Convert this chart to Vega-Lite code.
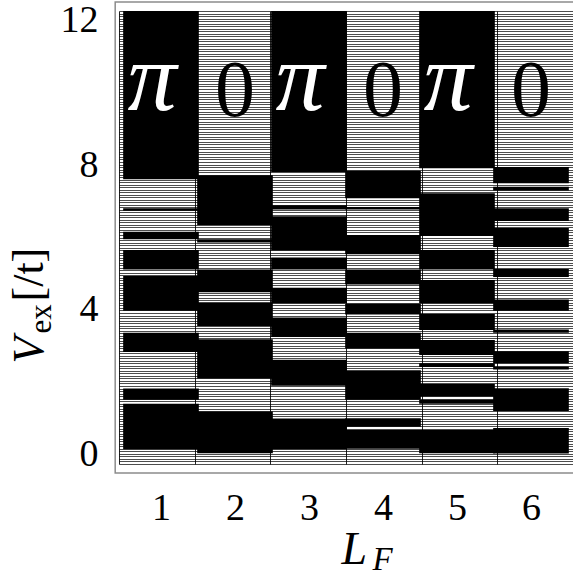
{
  "$schema": "https://vega.github.io/schema/vega-lite/v6.json",
  "autosize": "none",
  "width": 454,
  "height": 453,
  "padding": {"left": 119, "top": 11, "right": 0, "bottom": 109},
  "background": "white",
  "config": {"view": {"stroke": null, "fill": "white"}, "font": "Liberation Serif"},
  "datasets": {
    "cells": [
      {"LF": 1, "v0": -0.25, "v1": 0.16, "phase": "0"},
      {"LF": 1, "v0": 0.16, "v1": 1.41, "phase": "π"},
      {"LF": 1, "v0": 1.41, "v1": 1.52, "phase": "0"},
      {"LF": 1, "v0": 1.52, "v1": 1.83, "phase": "π"},
      {"LF": 1, "v0": 1.83, "v1": 2.84, "phase": "0"},
      {"LF": 1, "v0": 2.84, "v1": 3.37, "phase": "π"},
      {"LF": 1, "v0": 3.37, "v1": 3.98, "phase": "0"},
      {"LF": 1, "v0": 3.98, "v1": 4.94, "phase": "π"},
      {"LF": 1, "v0": 4.94, "v1": 5.12, "phase": "0"},
      {"LF": 1, "v0": 5.12, "v1": 5.655, "phase": "π"},
      {"LF": 1, "v0": 5.655, "v1": 5.95, "phase": "0"},
      {"LF": 1, "v0": 5.95, "v1": 6.16, "phase": "π"},
      {"LF": 1, "v0": 6.16, "v1": 6.74, "phase": "0"},
      {"LF": 1, "v0": 6.74, "v1": 6.81, "phase": "π"},
      {"LF": 1, "v0": 6.81, "v1": 7.61, "phase": "0"},
      {"LF": 1, "v0": 7.61, "v1": 12.25, "phase": "π"},
      {"LF": 2, "v0": -0.25, "v1": 0.045, "phase": "0"},
      {"LF": 2, "v0": 0.045, "v1": 1.2, "phase": "π"},
      {"LF": 2, "v0": 1.2, "v1": 2.11, "phase": "0"},
      {"LF": 2, "v0": 2.11, "v1": 3.19, "phase": "π"},
      {"LF": 2, "v0": 3.19, "v1": 3.56, "phase": "0"},
      {"LF": 2, "v0": 3.56, "v1": 4.21, "phase": "π"},
      {"LF": 2, "v0": 4.21, "v1": 4.49, "phase": "0"},
      {"LF": 2, "v0": 4.49, "v1": 5.12, "phase": "π"},
      {"LF": 2, "v0": 5.12, "v1": 5.86, "phase": "0"},
      {"LF": 2, "v0": 5.86, "v1": 5.95, "phase": "π"},
      {"LF": 2, "v0": 5.95, "v1": 6.345, "phase": "0"},
      {"LF": 2, "v0": 6.345, "v1": 7.72, "phase": "π"},
      {"LF": 2, "v0": 7.72, "v1": 12.25, "phase": "0"},
      {"LF": 3, "v0": -0.25, "v1": 0.16, "phase": "0"},
      {"LF": 3, "v0": 0.16, "v1": 1.005, "phase": "π"},
      {"LF": 3, "v0": 1.005, "v1": 1.91, "phase": "0"},
      {"LF": 3, "v0": 1.91, "v1": 2.63, "phase": "π"},
      {"LF": 3, "v0": 2.63, "v1": 3.255, "phase": "0"},
      {"LF": 3, "v0": 3.255, "v1": 3.79, "phase": "π"},
      {"LF": 3, "v0": 3.79, "v1": 4.185, "phase": "0"},
      {"LF": 3, "v0": 4.185, "v1": 4.615, "phase": "π"},
      {"LF": 3, "v0": 4.615, "v1": 5.12, "phase": "0"},
      {"LF": 3, "v0": 5.12, "v1": 5.45, "phase": "π"},
      {"LF": 3, "v0": 5.45, "v1": 5.64, "phase": "0"},
      {"LF": 3, "v0": 5.64, "v1": 6.585, "phase": "π"},
      {"LF": 3, "v0": 6.585, "v1": 6.77, "phase": "0"},
      {"LF": 3, "v0": 6.77, "v1": 6.89, "phase": "π"},
      {"LF": 3, "v0": 6.89, "v1": 7.81, "phase": "0"},
      {"LF": 3, "v0": 7.81, "v1": 12.25, "phase": "π"},
      {"LF": 4, "v0": -0.25, "v1": 0.17, "phase": "0"},
      {"LF": 4, "v0": 0.17, "v1": 0.69, "phase": "π"},
      {"LF": 4, "v0": 0.69, "v1": 0.78, "phase": "0"},
      {"LF": 4, "v0": 0.78, "v1": 1.01, "phase": "π"},
      {"LF": 4, "v0": 1.01, "v1": 1.52, "phase": "0"},
      {"LF": 4, "v0": 1.52, "v1": 2.34, "phase": "π"},
      {"LF": 4, "v0": 2.34, "v1": 2.94, "phase": "0"},
      {"LF": 4, "v0": 2.94, "v1": 3.37, "phase": "π"},
      {"LF": 4, "v0": 3.37, "v1": 3.875, "phase": "0"},
      {"LF": 4, "v0": 3.875, "v1": 4.17, "phase": "π"},
      {"LF": 4, "v0": 4.17, "v1": 4.7, "phase": "0"},
      {"LF": 4, "v0": 4.7, "v1": 5.12, "phase": "π"},
      {"LF": 4, "v0": 5.12, "v1": 5.54, "phase": "0"},
      {"LF": 4, "v0": 5.54, "v1": 6.07, "phase": "π"},
      {"LF": 4, "v0": 6.07, "v1": 6.77, "phase": "0"},
      {"LF": 4, "v0": 6.77, "v1": 6.84, "phase": "π"},
      {"LF": 4, "v0": 6.84, "v1": 7.08, "phase": "0"},
      {"LF": 4, "v0": 7.08, "v1": 7.84, "phase": "π"},
      {"LF": 4, "v0": 7.84, "v1": 12.25, "phase": "0"},
      {"LF": 5, "v0": -0.25, "v1": 0.045, "phase": "0"},
      {"LF": 5, "v0": 0.045, "v1": 0.69, "phase": "π"},
      {"LF": 5, "v0": 0.69, "v1": 1.41, "phase": "0"},
      {"LF": 5, "v0": 1.41, "v1": 1.52, "phase": "π"},
      {"LF": 5, "v0": 1.52, "v1": 1.61, "phase": "0"},
      {"LF": 5, "v0": 1.61, "v1": 1.96, "phase": "π"},
      {"LF": 5, "v0": 1.96, "v1": 2.43, "phase": "0"},
      {"LF": 5, "v0": 2.43, "v1": 2.53, "phase": "π"},
      {"LF": 5, "v0": 2.53, "v1": 2.76, "phase": "0"},
      {"LF": 5, "v0": 2.76, "v1": 3.17, "phase": "π"},
      {"LF": 5, "v0": 3.17, "v1": 3.45, "phase": "0"},
      {"LF": 5, "v0": 3.45, "v1": 3.89, "phase": "π"},
      {"LF": 5, "v0": 3.89, "v1": 4.185, "phase": "0"},
      {"LF": 5, "v0": 4.185, "v1": 4.83, "phase": "π"},
      {"LF": 5, "v0": 4.83, "v1": 5.12, "phase": "0"},
      {"LF": 5, "v0": 5.12, "v1": 5.655, "phase": "π"},
      {"LF": 5, "v0": 5.655, "v1": 6.04, "phase": "0"},
      {"LF": 5, "v0": 6.04, "v1": 7.22, "phase": "π"},
      {"LF": 5, "v0": 7.22, "v1": 7.91, "phase": "0"},
      {"LF": 5, "v0": 7.91, "v1": 12.25, "phase": "π"},
      {"LF": 6, "v0": -0.25, "v1": 0.04, "phase": "0"},
      {"LF": 6, "v0": 0.04, "v1": 0.745, "phase": "π"},
      {"LF": 6, "v0": 0.745, "v1": 1.21, "phase": "0"},
      {"LF": 6, "v0": 1.21, "v1": 1.84, "phase": "π"},
      {"LF": 6, "v0": 1.84, "v1": 2.36, "phase": "0"},
      {"LF": 6, "v0": 2.36, "v1": 2.435, "phase": "π"},
      {"LF": 6, "v0": 2.435, "v1": 2.53, "phase": "0"},
      {"LF": 6, "v0": 2.53, "v1": 2.86, "phase": "π"},
      {"LF": 6, "v0": 2.86, "v1": 3.37, "phase": "0"},
      {"LF": 6, "v0": 3.37, "v1": 3.46, "phase": "π"},
      {"LF": 6, "v0": 3.46, "v1": 3.98, "phase": "0"},
      {"LF": 6, "v0": 3.98, "v1": 4.29, "phase": "π"},
      {"LF": 6, "v0": 4.29, "v1": 4.91, "phase": "0"},
      {"LF": 6, "v0": 4.91, "v1": 5.13, "phase": "π"},
      {"LF": 6, "v0": 5.13, "v1": 5.74, "phase": "0"},
      {"LF": 6, "v0": 5.74, "v1": 6.26, "phase": "π"},
      {"LF": 6, "v0": 6.26, "v1": 6.455, "phase": "0"},
      {"LF": 6, "v0": 6.455, "v1": 6.81, "phase": "π"},
      {"LF": 6, "v0": 6.81, "v1": 7.3, "phase": "0"},
      {"LF": 6, "v0": 7.3, "v1": 7.4, "phase": "π"},
      {"LF": 6, "v0": 7.4, "v1": 7.5, "phase": "0"},
      {"LF": 6, "v0": 7.5, "v1": 7.945, "phase": "π"},
      {"LF": 6, "v0": 7.945, "v1": 12.25, "phase": "0"}
    ],
    "labels": [
      {"LF": 1, "label": "π"},
      {"LF": 2, "label": "0"},
      {"LF": 3, "label": "π"},
      {"LF": 4, "label": "0"},
      {"LF": 5, "label": "π"},
      {"LF": 6, "label": "0"}
    ]
  },
  "layer": [
    {
      "layer": [
        {
          "data": {"values": [{}]},
          "mark": {"type": "rect", "filled": false, "stroke": "#8c8c8c", "strokeWidth": 1.5},
          "encoding": {
            "x": {"datum": 0.381, "type": "quantitative"},
            "x2": {"datum": 6.62},
            "y": {"datum": -0.5, "type": "quantitative"},
            "y2": {"datum": 12.5}
          }
        },
        {
          "data": {"name": "cells"},
          "mark": {"type": "bar", "width": {"expr": "width / 6"}},
          "encoding": {
            "x": {
              "field": "LF", "type": "quantitative",
              "scale": {"domain": [0.5, 6.5], "nice": false, "zero": false},
              "axis": {
                "values": [1, 2, 3, 4, 5, 6], "format": "d",
                "labelFont": "Liberation Serif", "labelFontSize": 38, "labelColor": "black",
                "labelPadding": 25, "ticks": false, "tickSize": 0, "domain": false, "grid": false,
                "labelOverlap": false, "labelFlush": false,
                "title": "L", "titleFont": "Liberation Serif", "titleFontStyle": "italic",
                "titleFontWeight": "normal", "titleFontSize": 46, "titleColor": "black",
                "titleAlign": "left", "titleBaseline": "alphabetic", "titleX": 222, "titleY": 99
              }
            },
            "y": {
              "field": "v0", "type": "quantitative",
              "scale": {"domain": [-0.25, 12.25], "nice": false, "zero": false},
              "axis": {
                "values": [0, 4, 8, 12], "format": "d",
                "labelFont": "Liberation Serif", "labelFontSize": 38, "labelColor": "black",
                "labelPadding": 21, "ticks": false, "tickSize": 0, "domain": false, "grid": false,
                "labelOverlap": false, "labelFlush": false,
                "title": "V", "titleFont": "Liberation Serif", "titleFontStyle": "italic",
                "titleFontWeight": "normal", "titleFontSize": 44, "titleColor": "black",
                "titleAngle": 270, "titleAlign": "left", "titleBaseline": "alphabetic",
                "titleX": -77, "titleY": 352
              }
            },
            "y2": {"field": "v1"},
            "color": {
              "field": "phase", "type": "nominal",
              "scale": {"domain": ["π", "0"], "range": ["#000000", "transparent"]},
              "legend": null
            }
          }
        },
        {
          "data": {"name": "labels"},
          "transform": [{"filter": "datum.label == 'π'"}],
          "mark": {"type": "text", "font": "Liberation Serif", "fontStyle": "italic", "fontSize": 98, "baseline": "alphabetic", "align": "center", "color": "white", "dx": -9},
          "encoding": {
            "x": {"field": "LF", "type": "quantitative"},
            "y": {"datum": 9.52, "type": "quantitative"},
            "text": {"field": "label"}
          }
        },
        {
          "data": {"name": "labels"},
          "transform": [{"filter": "datum.label == '0'"}],
          "mark": {"type": "text", "font": "Liberation Serif", "fontSize": 80, "baseline": "alphabetic", "align": "center", "color": "black"},
          "encoding": {
            "x": {"field": "LF", "type": "quantitative"},
            "y": {"datum": 9.35, "type": "quantitative"},
            "text": {"field": "label"}
          }
        }
      ]
    },
    {
      "data": {"values": [{}]},
      "mark": {"type": "point", "opacity": 0},
      "encoding": {
        "x": {
          "datum": 0, "type": "quantitative",
          "scale": {"domain": [0, 6], "nice": false, "zero": false},
          "axis": {
            "orient": "bottom", "tickCount": 6, "grid": true, "gridColor": "#222222", "gridWidth": 1,
            "labels": false, "ticks": false, "domain": false, "zindex": 0,
            "title": "F", "titleFont": "Liberation Serif", "titleFontStyle": "italic",
            "titleFontWeight": "normal", "titleFontSize": 33, "titleColor": "black",
            "titleAlign": "left", "titleBaseline": "alphabetic", "titleX": 253, "titleY": 105
          }
        },
        "y": {
          "datum": 0, "type": "quantitative",
          "scale": {"domain": [0, 180], "nice": false, "zero": false},
          "axis": {
            "orient": "left", "tickCount": 180, "grid": true, "gridColor": "#000000", "gridWidth": 0.7,
            "labels": false, "ticks": false, "domain": false, "zindex": 0,
            "title": "ex", "titleFont": "Liberation Serif", "titleFontStyle": "normal",
            "titleFontWeight": "normal", "titleFontSize": 31, "titleColor": "black",
            "titleAngle": 270, "titleAlign": "left", "titleBaseline": "alphabetic",
            "titleX": -69, "titleY": 322
          }
        }
      }
    },
    {
      "data": {"values": [{}]},
      "mark": {"type": "point", "opacity": 0},
      "encoding": {
        "y": {
          "datum": 0, "type": "quantitative",
          "scale": {"domain": [0, 1]},
          "axis": {
            "orient": "left", "grid": false, "labels": false, "ticks": false, "domain": false,
            "title": "[/t]", "titleFont": "Liberation Serif", "titleFontStyle": "normal",
            "titleFontWeight": "normal", "titleFontSize": 44, "titleColor": "black",
            "titleAngle": 270, "titleAlign": "left", "titleBaseline": "alphabetic",
            "titleX": -77, "titleY": 290
          }
        }
      }
    }
  ],
  "resolve": {
    "scale": {"x": "independent", "y": "independent"},
    "axis": {"x": "independent", "y": "independent"}
  }
}
